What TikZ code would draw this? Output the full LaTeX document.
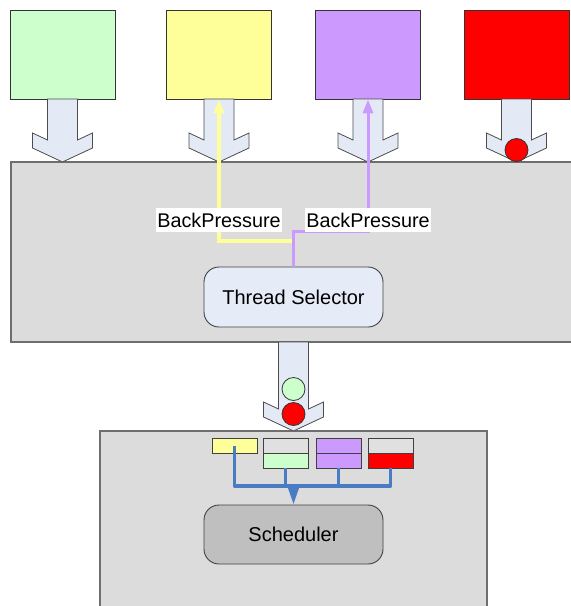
\documentclass[tikz,border=0pt]{standalone}
\usepackage{fontspec}
\setmainfont{Liberation Sans}
\usetikzlibrary{arrows.meta}
\definecolor{cgreen}{HTML}{CCFFCC}
\definecolor{cyellow}{HTML}{FFFF99}
\definecolor{cpurple}{HTML}{CC99FF}
\definecolor{cred}{HTML}{FF0000}
\definecolor{carrow}{HTML}{E4EAF5}
\definecolor{cpanel}{HTML}{DCDCDC}
\definecolor{cpanelb}{HTML}{6E6E6E}
\definecolor{cts}{HTML}{E6ECF7}
\definecolor{csched}{HTML}{BFBFBF}
\definecolor{cbus}{HTML}{4A7CC4}
\definecolor{cempty}{HTML}{E0E0E0}
\newcommand{\blockarr}[3]{%
  \draw[bafill] (#1-15,#2) -- (#1+15,#2) -- (#1+15,#3-22) -- (#1+30,#3-29)
    -- (#1+30,#3-14) -- (#1,#3) -- (#1-30,#3-14) -- (#1-30,#3-29)
    -- (#1-15,#3-22) -- cycle;}
\begin{document}
\begin{tikzpicture}[x=1pt,y=-1pt,
  topbox/.style={draw=black!80, line width=0.8pt, minimum width=105pt, minimum height=89pt, inner sep=0pt},
  panel/.style={draw=cpanelb, fill=cpanel, line width=1.3pt, inner sep=0pt},
  rbox/.style={draw=black!75, line width=0.9pt, rounded corners=15pt, minimum width=179pt, minimum height=60pt, font=\fontsize{20}{24}\selectfont},
  bafill/.style={draw=black!70, fill=carrow, line width=0.8pt, line join=miter},
  ball/.style={draw=black!80, line width=0.8pt, circle, minimum size=23pt, inner sep=0pt},
  qbox/.style={draw=black!75, line width=0.8pt, minimum width=45pt, minimum height=15pt, inner sep=0pt},
  bpline/.style={line width=3.5pt},
  bplabel/.style={fill=white, inner xsep=1.5pt, inner ysep=4.5pt, font=\fontsize{19.8}{23}\selectfont},
  bus/.style={draw=cbus, line width=3.5pt, line join=round},
]
\useasboundingbox (0,0) rectangle (571,606);
\clip (0,0) rectangle (571,606);
% top boxes
\node[topbox, fill=cgreen]  (g) at (62.5,54.5) {};
\node[topbox, fill=cyellow] (y) at (219,54.5) {};
\node[topbox, fill=cpurple] (p) at (368,54.5) {};
\node[topbox, fill=cred]    (r) at (516.5,54.5) {};
% panels
\node[panel, minimum width=569pt, minimum height=180pt] (main) at (295.5,252) {};
\node[panel, minimum width=387pt, minimum height=189pt] (low) at (293.5,525.5) {};
% block arrows
\blockarr{62.5}{99}{162}
\blockarr{219}{99}{162}
\blockarr{368}{99}{162}
\blockarr{516.5}{99}{162}
\blockarr{293.5}{342}{431}
\node[ball, fill=cred] (rb) at (516.5,150) {};
\node[ball, fill=cgreen] (mg) at (293.5,389) {};
\node[ball, fill=cred] (mr) at (293.5,414) {};
% thread selector
\node[rbox, fill=cts] (ts) at (293.5,297) {Thread Selector};
% backpressure
\coordinate (jy) at (293.5,241);
\coordinate (jp) at (293.5,231);
\draw[bpline, draw=cyellow, -{Triangle[width=10pt,length=14pt]}] (jy) -| (y.south);
\draw[bpline, draw=cpurple, line width=3pt, -{Triangle[width=10pt,length=14pt]}] (ts.north) -- (jp) -| (p.south);
\node[bplabel] (l1) at (219,220) {BackPressure};
\node[bplabel] (l2) at (368,220) {BackPressure};
% queues
\node[qbox, fill=cyellow] (q1)  at (234.5,445.5) {};
\node[qbox, fill=cempty]  (q2a) at (285.5,445.5) {};
\node[qbox, fill=cgreen]  (q2b) at (285.5,460.5) {};
\node[qbox, fill=cpurple] (q3a) at (338.5,445.5) {};
\node[qbox, fill=cpurple] (q3b) at (338.5,460.5) {};
\node[qbox, fill=cempty]  (q4a) at (390.5,445.5) {};
\node[qbox, fill=cred]    (q4b) at (390.5,460.5) {};
% scheduler
\node[rbox, fill=csched, minimum height=59pt] (sched) at (293.5,534.5) {Scheduler};
% bus
\coordinate (busL) at (234.5,486);
\draw[bus] (q1.center) -- (busL) -| (q4b.south);
\draw[bus] (q2b.south) -- (q2b.south |- busL);
\draw[bus] (q3b.south) -- (q3b.south |- busL);
\draw[bus, -{Triangle[width=11pt,length=18pt]}] (sched.north |- busL) -- (sched.north);
\end{tikzpicture}
\end{document}
